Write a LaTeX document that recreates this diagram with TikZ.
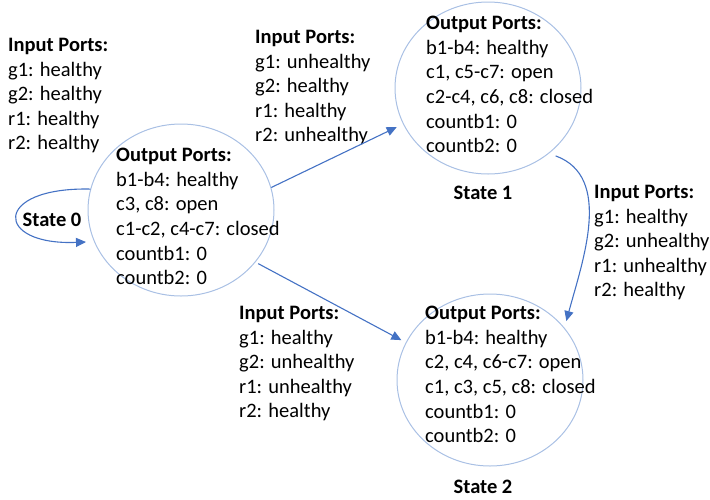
\documentclass[tikz,border=0pt]{standalone}
\usepackage{fontspec}
\setmainfont{Carlito}
\usetikzlibrary{arrows.meta,shapes.geometric}
\definecolor{arrowblue}{HTML}{4472C4}
\definecolor{ringblue}{HTML}{A9C0E4}
\tikzset{
  ports/.style={anchor=north west, align=left, inner sep=0pt, font=\fontsize{20.5}{24.6}\selectfont},
  statering/.style={draw=ringblue, line width=1pt, ellipse, minimum width=186pt, minimum height=172pt, inner sep=0pt},
  statename/.style={inner sep=0pt, font=\fontsize{20.5}{24.6}\selectfont\bfseries},
  trans/.style={draw=arrowblue, line width=1.1pt, -{Triangle[length=10pt,width=9pt]}}
}
\begin{document}
\begin{tikzpicture}[x=1pt,y=-1pt]
  \useasboundingbox (0,0) rectangle (710,499);

  % Draw the three states
  \node[statering] (s0) at (181,210) {};
  \node[statering] (s1) at (488,88) {};
  \node[statering] (s2) at (490,380) {};

  % Output ports inside each state
  \node[ports] (out0) at (116,148) {\textbf{Output Ports:}\\b1-b4: healthy\\c3, c8: open\\c1-c2, c4-c7: closed\\countb1: 0\\countb2: 0};
  \node[ports] (out1) at (426,16) {\textbf{Output Ports:}\\b1-b4: healthy\\c1, c5-c7: open\\c2-c4, c6, c8: closed\\countb1: 0\\countb2: 0};
  \node[ports] (out2) at (425,306) {\textbf{Output Ports:}\\b1-b4: healthy\\c2, c4, c6-c7: open\\c1, c3, c5, c8: closed\\countb1: 0\\countb2: 0};

  % State names
  \node[statename] (name0) at (52,220) {State 0};
  \node[statename] (name1) at (483,193) {State 1};
  \node[statename] (name2) at (483,487) {State 2};

  % Input ports on the transitions
  \node[ports] (in0) at (8,38) {\textbf{Input Ports:}\\g1: healthy\\g2: healthy\\r1: healthy\\r2: healthy};
  \node[ports] (in01) at (255,30) {\textbf{Input Ports:}\\g1: unhealthy\\g2: healthy\\r1: healthy\\r2: unhealthy};
  \node[ports] (in12) at (594,185) {\textbf{Input Ports:}\\g1: healthy\\g2: unhealthy\\r1: unhealthy\\r2: healthy};
  \node[ports] (in02) at (239,306) {\textbf{Input Ports:}\\g1: healthy\\g2: unhealthy\\r1: unhealthy\\r2: healthy};

  % Draw the transitions
  \draw[trans, shorten >=8pt] (s0.167) .. controls +(-98,-2) and +(-100,4) .. (s0.200);
  \draw[trans, shorten >=7pt] (s0.14) -- (s1.203);
  \draw[trans, shorten <=3pt, shorten >=5pt] (s0.-35) -- (s2.156);
  \draw[trans, shorten <=7pt, shorten >=7pt] (s1.-47) to[out=-20,in=75] (s2.35);

\end{tikzpicture}
\end{document}
